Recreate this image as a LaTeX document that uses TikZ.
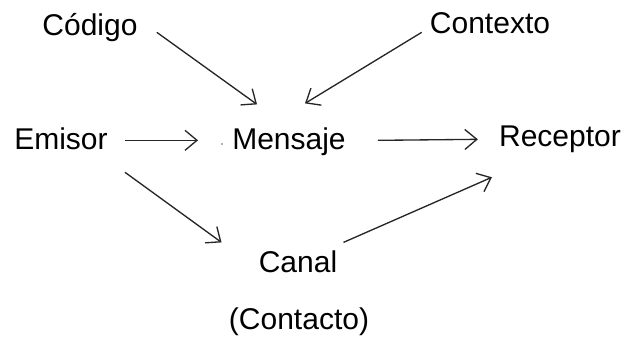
\documentclass[tikz,border=0pt]{standalone}
\usepackage{fontspec}
\setmainfont{Liberation Sans}
\usetikzlibrary{arrows.meta,calc}

\begin{document}
\begin{tikzpicture}[x=0.75pt, y=-0.75pt,
        word/.style={inner sep=0pt, text height=16pt, text depth=4.5pt,
                     font=\fontsize{22.5}{27}\selectfont, anchor=base},
        arr/.style={draw=black!85, line width=1pt,
                    -{Straight Barb[length=9pt, width=15pt]}}]
            \useasboundingbox (0,0) rectangle (624,339);
            \node[word] (codigo)   at (90,36)   {Código};
            \node[word] (contexto) at (490,33)  {Contexto};
            \node[word] (emisor)   at (61,149)  {Emisor};
            \node[word] (mensaje)  at (289,149) {Mensaje};
            \node[word] (receptor) at (560,146) {Receptor};
            \node[word] (canal)    at (298,272) {Canal};
            \node[word] (contacto) at (299,329) {(Contacto)};
            \fill[black!60] (222,144) circle (0.9);
            \draw[arr] ($(codigo.east)+(19,4)$) -- ($(mensaje.north)+(-32,-23)$);
            \draw[arr] ($(contexto.west)+(-8,7)$) -- ($(mensaje.north)+(16,-24)$);
            \draw[arr] ($(emisor.east)+(17,-1)$) -- ($(mensaje.west)+(-34,-1)$);
            \draw[arr] ($(mensaje.east)+(32,-1)$) -- ($(receptor.west)+(-21,1)$);
            \draw[arr] ($(emisor.south east)+(17,17)$) -- ($(canal.north west)+(-37,-8)$);
            \draw[arr] ($(canal.north east)+(6,-8)$) -- ($(receptor.south west)+(-7,25)$);
        \end{tikzpicture}
\end{document}
